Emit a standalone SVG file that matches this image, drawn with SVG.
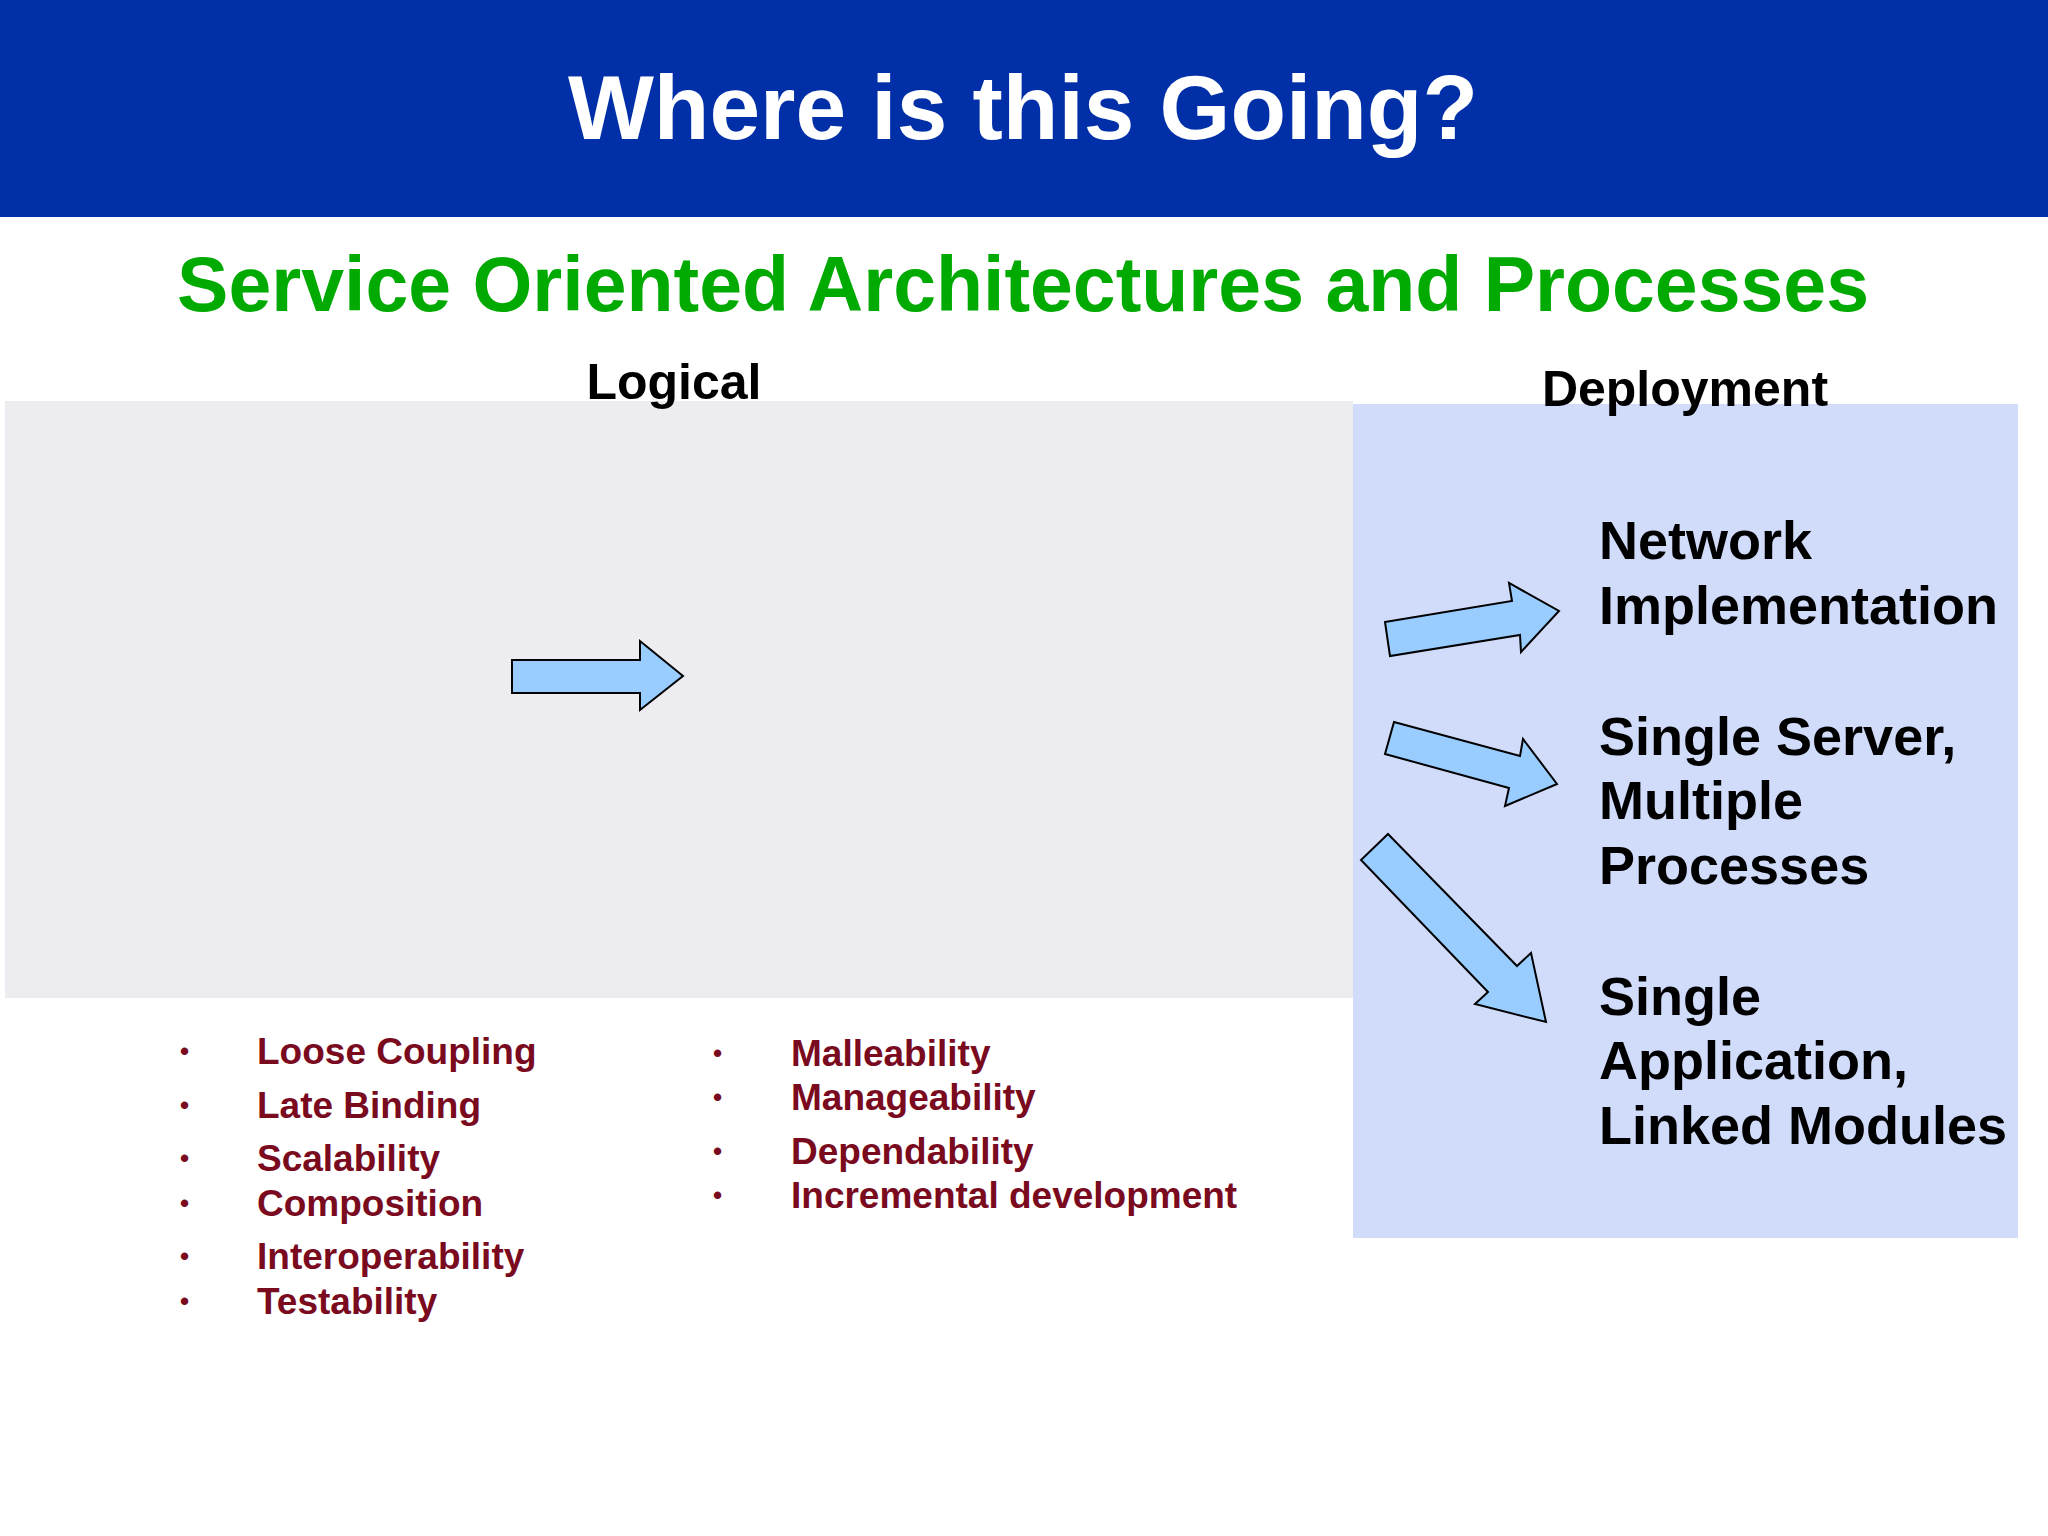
<svg xmlns="http://www.w3.org/2000/svg" width="2048" height="1536" viewBox="0 0 2048 1536">
<style>
.b{font-family:"Liberation Sans",Arial,sans-serif;font-weight:bold}
.r{fill:#000;font-size:54px}
.li{fill:#7A0A1E;font-size:37px}
.ar{fill:#99CCFF;stroke:#000;stroke-width:2}
</style>
<rect width="2048" height="1536" fill="#fff"/>
<g id="header"><rect x="0" y="0" width="2048" height="217" fill="#002FA7"/>
<text class="b" x="1023" y="139" font-size="91" fill="#fff" text-anchor="middle">Where is this Going?</text></g>
<text class="b" x="1023" y="311" font-size="77" fill="#00AA00" text-anchor="middle">Service Oriented Architectures and Processes</text>
<g id="logical"><rect x="5" y="401" width="1348" height="597" fill="#EDECF0"/>
<text class="b" x="674" y="399" font-size="50" text-anchor="middle">Logical</text></g>
<g id="deployment"><rect x="1353" y="404" width="665" height="834" fill="#D1DCFB"/>
<text class="b" x="1685" y="406" font-size="50" text-anchor="middle">Deployment</text>
<text class="b r" x="1599" y="559">Network</text>
<text class="b r" x="1599" y="624">Implementation</text>
<text class="b r" x="1599" y="755">Single Server,</text>
<text class="b r" x="1599" y="819">Multiple</text>
<text class="b r" x="1599" y="884">Processes</text>
<text class="b r" x="1599" y="1015">Single</text>
<text class="b r" x="1599" y="1079">Application,</text>
<text class="b r" x="1599" y="1144">Linked Modules</text></g>
<g id="connectors">
<polygon class="ar" points="512,660 640,660 640,641 683,676 640,710 640,693 512,693"/>
<polygon class="ar" points="1385,622 1512,601 1509,583 1559,611 1521,652 1520,635 1390,656"/>
<polygon class="ar" points="1394,722 1520,756 1523,739 1557,784 1505,806 1509,788 1385,754"/>
<polygon class="ar" points="1388,834 1517,966 1531,953 1546,1022 1475,1004 1488,992 1361,860"/>
</g>
<g id="bullets1" class="b li">
<text x="180" y="1060" font-size="26">•</text><text x="257" y="1064">Loose Coupling</text>
<text x="180" y="1114" font-size="26">•</text><text x="257" y="1118">Late Binding</text>
<text x="180" y="1167" font-size="26">•</text><text x="257" y="1171">Scalability</text>
<text x="180" y="1212" font-size="26">•</text><text x="257" y="1216">Composition</text>
<text x="180" y="1265" font-size="26">•</text><text x="257" y="1269">Interoperability</text>
<text x="180" y="1310" font-size="26">•</text><text x="257" y="1314">Testability</text>
</g>
<g id="bullets2" class="b li">
<text x="713" y="1062" font-size="26">•</text><text x="791" y="1066">Malleability</text>
<text x="713" y="1106" font-size="26">•</text><text x="791" y="1110">Manageability</text>
<text x="713" y="1160" font-size="26">•</text><text x="791" y="1164">Dependability</text>
<text x="713" y="1204" font-size="26">•</text><text x="791" y="1208">Incremental development</text>
</g>
</svg>
